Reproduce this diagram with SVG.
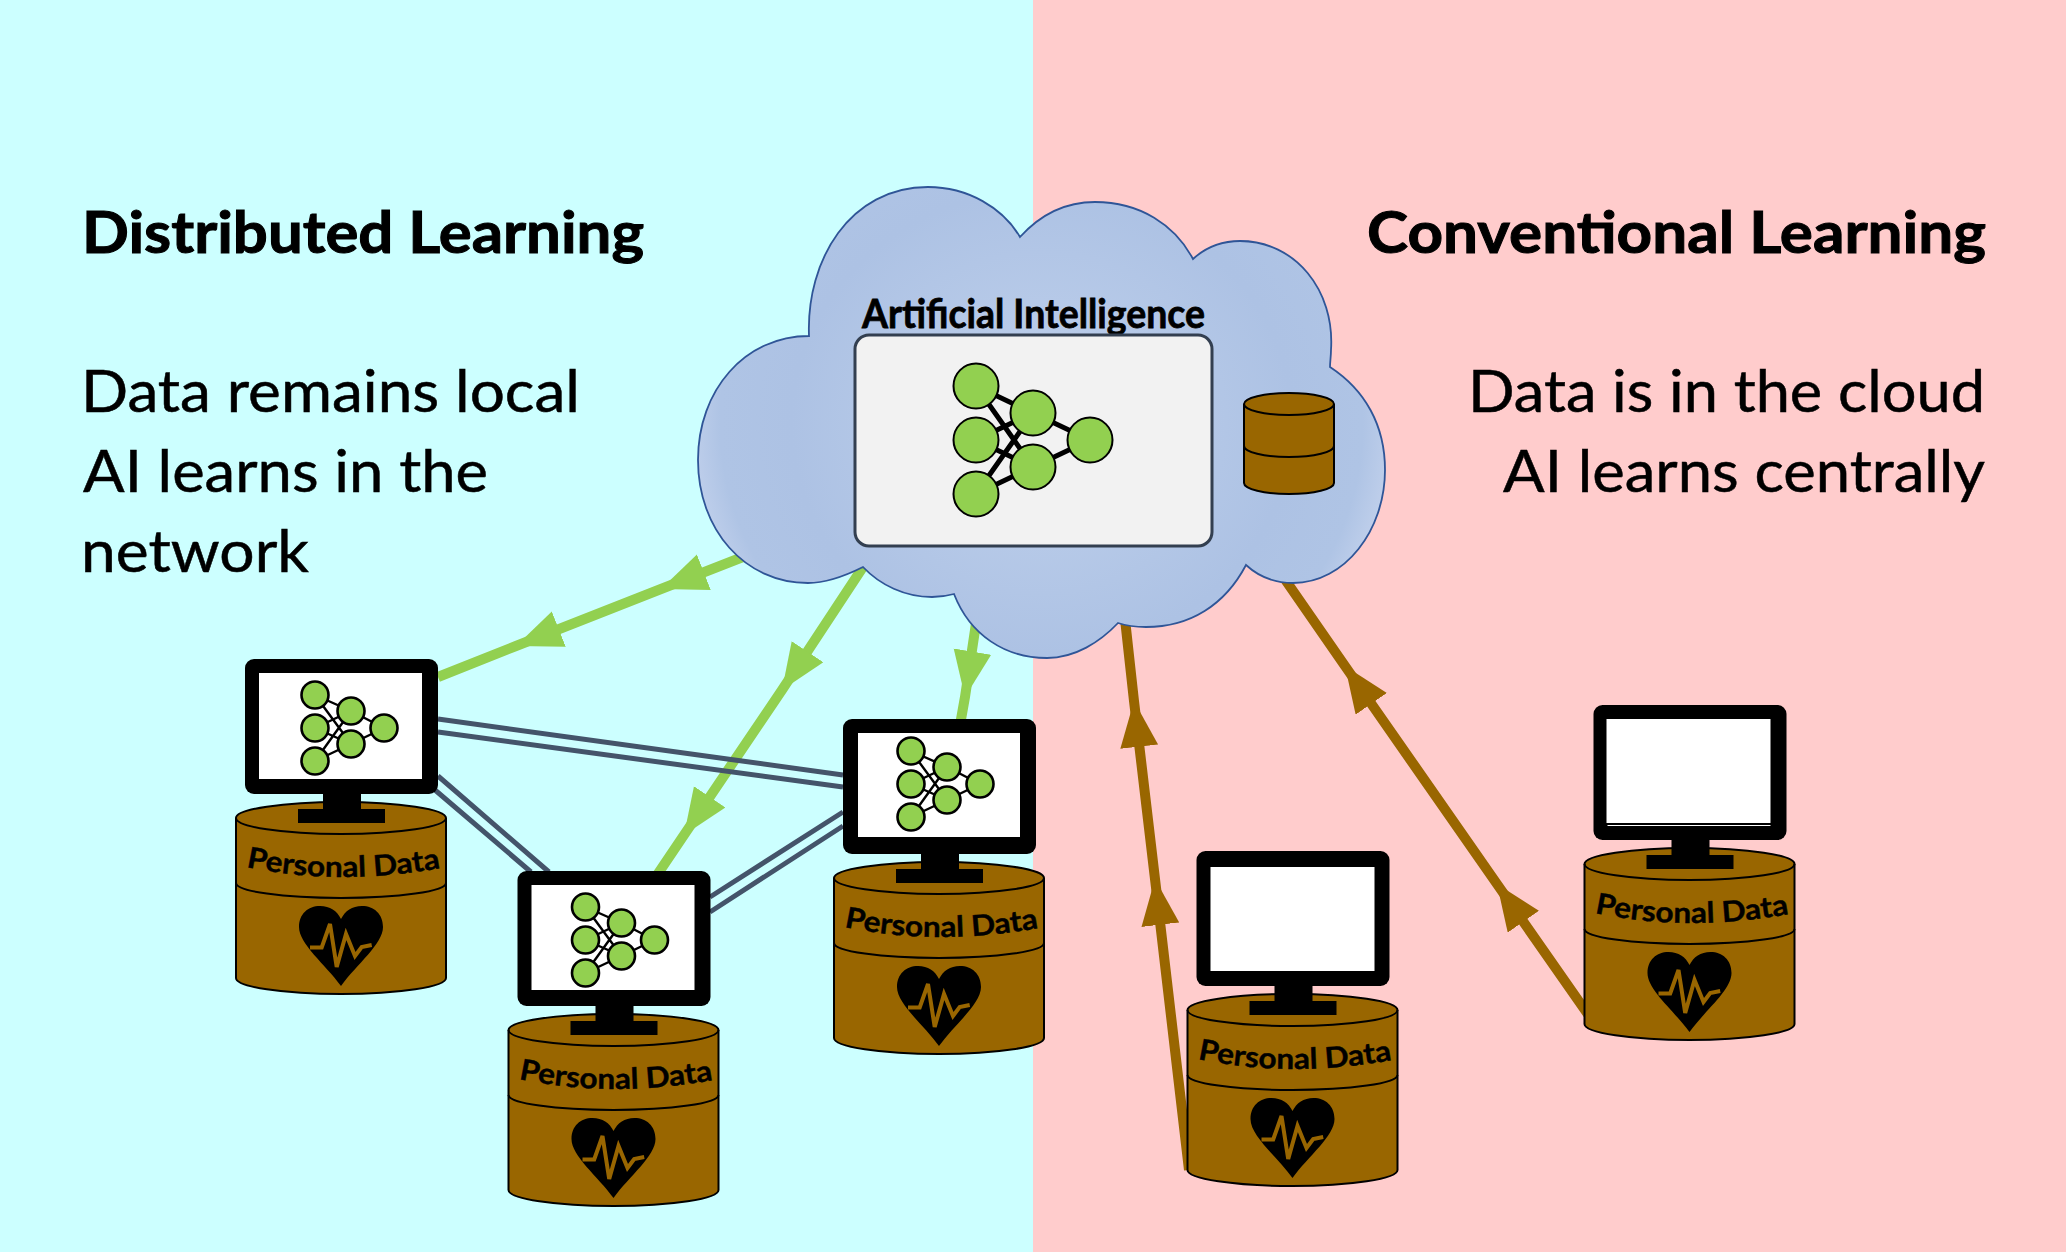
<svg xmlns="http://www.w3.org/2000/svg" width="2066" height="1252" viewBox="0 0 2066 1252">
<style>
text{font-family:Lato,"Liberation Sans",sans-serif;fill:#000}
.h{font-size:58px;font-weight:700;stroke:#000;stroke-width:1}
.b{font-size:58px;font-weight:400;stroke:#000;stroke-width:.5}
.pd{font-size:29px;font-weight:700;stroke:#000;stroke-width:.4}
.ai{font-size:41px;font-weight:700;stroke:#000;stroke-width:.8}
.disk{fill:#996600;stroke:#000;stroke-width:2}
.mon{fill:#000}
.scr{fill:#fff}
.pulse{fill:none;stroke:#996600;stroke-width:4}
.n{fill:#92D050;stroke:#000;stroke-width:2.6}
.e{stroke:#000;stroke-width:2.4}
.n2{fill:#92D050;stroke:#000;stroke-width:2}
.e2{stroke:#000;stroke-width:5}
.g{fill:none;stroke:#92D050;stroke-width:10;marker-mid:url(#hg)}
.br{fill:none;stroke:#996600;stroke-width:10;marker-mid:url(#hb)}
.s{fill:none;stroke:#44546A;stroke-width:5}
</style>
<defs>
<marker id="hg" markerUnits="userSpaceOnUse" markerWidth="48" markerHeight="40" refX="46" refY="19" orient="auto"><path d="M0 0L46 19L0 38Z" fill="#92D050"/></marker>
<marker id="hb" markerUnits="userSpaceOnUse" markerWidth="48" markerHeight="40" refX="46" refY="19" orient="auto"><path d="M0 0L46 19L0 38Z" fill="#996600"/></marker>
<radialGradient id="cg" cx=".5" cy=".5" r=".52" gradientTransform="translate(.5 .5) scale(1 1.35) translate(-.5 -.5)"><stop offset="0" stop-color="#C0D1EC"/><stop offset=".7" stop-color="#ADC2E4"/><stop offset=".9" stop-color="#AFC4E5"/><stop offset="1" stop-color="#C2D1EC"/></radialGradient>
<path id="arc" d="M246 868Q340 888 446 868"/>
<g id="dbs">
<path class="disk" d="M236 819A105 16 0 0 1 446 819V979A105 16 0 0 1 236 979Z"/>
<path class="disk" style="fill:none" d="M236 819A105 16 0 0 0 446 819M236 884A105 15 0 0 0 446 884"/>
<path fill="#000" d="M341 987C325 965 299 945 299 928C299 915 308 907 320 907C330 907 337 912 341 920C345 912 352 907 362 907C374 907 383 915 383 928C383 945 357 965 341 987Z"/>
<path class="pulse" d="M310 948.5H321.7L330 925L336.7 968L346 935L355 957L361.7 948L371.7 946"/>
</g>
<g id="mn">
<rect class="mon" x="245" y="660" width="193" height="135" rx="9"/>
<rect class="mon" x="323" y="795" width="38" height="16"/>
<rect class="mon" x="298" y="810" width="87" height="14"/>
</g>
<g id="nn">
<path class="e" d="M315 696L351 712M315 696L351 745M315 729L351 712M315 729L351 745M315 762L351 712M315 762L351 745M351 712L384 729M351 745L384 729"/>
<circle class="n" cx="315" cy="696" r="13.5"/><circle class="n" cx="315" cy="729" r="13.5"/><circle class="n" cx="315" cy="762" r="13.5"/><circle class="n" cx="351" cy="712" r="13.5"/><circle class="n" cx="351" cy="745" r="13.5"/><circle class="n" cx="384" cy="729" r="13.5"/>
</g>
</defs>
<rect id="bg-left" width="1033" height="1252" fill="#CCFFFF"/>
<rect id="bg-right" x="1033" width="1033" height="1252" fill="#FFCCCC"/>
<g id="labels">
<text class="h" x="82" y="253" textLength="562" lengthAdjust="spacingAndGlyphs">Distributed Learning</text>
<text class="b" x="81" y="412" textLength="499" lengthAdjust="spacingAndGlyphs">Data remains local</text>
<text class="b" x="83" y="492" textLength="405" lengthAdjust="spacingAndGlyphs">AI learns in the</text>
<text class="b" x="81" y="572" textLength="228" lengthAdjust="spacingAndGlyphs">network</text>
<text class="h" x="1367" y="253" textLength="619" lengthAdjust="spacingAndGlyphs">Conventional Learning</text>
<text class="b" x="1468" y="412" textLength="517" lengthAdjust="spacingAndGlyphs">Data is in the cloud</text>
<text class="b" x="1503" y="492" textLength="482" lengthAdjust="spacingAndGlyphs">AI learns centrally</text>
</g>
<g id="connectors">
<polyline class="g" points="748,555 661,589 516,646 438,677"/>
<polyline class="g" points="863,567 782,690 684,835 655,878"/>
<polyline class="g" points="978,610 965,697 960,725"/>
<polyline class="br" points="1189,1170 1155,879 1134,701 1124,610"/>
<polyline class="br" points="1592,1020 1497,884 1345,666 1275,565"/>
<path class="s" d="M438 719L843 775M438 732L843 787M438 776L549 872M435 790L531 872M710 897L843 812M710 912L843 826"/>
</g>
<g id="cloud">
<path fill="url(#cg)" stroke="#2F5597" stroke-width="1.8" d="M809 336C806 260 850 187 928 187C968 187 1003 208 1020 237C1040 215 1065 202 1095 202C1140 202 1175 225 1193 259C1205 248 1222 241 1240 241C1295 241 1335 290 1331 350C1331 356 1330 362 1330 367C1365 390 1385 425 1385 470C1385 530 1345 583 1293 583C1274 583 1258 576 1246 565C1225 605 1190 627 1146 627C1136 627 1127 626 1118 623C1100 642 1075 658 1047 658C1005 658 970 635 954 594C947 596 940 597 932 597C905 597 880 585 863 567C847 575 828 583 808 583C745 583 698 530 698 460C698 390 745 336 809 336Z"/>
<text class="ai" x="862" y="328" textLength="343" lengthAdjust="spacingAndGlyphs">Artificial Intelligence</text>
<rect x="855" y="335" width="357" height="211" rx="14" fill="#F2F2F2" stroke="#333F50" stroke-width="3"/>
<path class="e2" d="M976 386L1033 413M976 386L1033 467M976 440L1033 413M976 440L1033 467M976 494L1033 413M976 494L1033 467M1033 413L1090 440M1033 467L1090 440"/>
<circle class="n2" cx="976" cy="386" r="22.5"/><circle class="n2" cx="976" cy="440" r="22.5"/><circle class="n2" cx="976" cy="494" r="22.5"/><circle class="n2" cx="1033" cy="413" r="22.5"/><circle class="n2" cx="1033" cy="467" r="22.5"/><circle class="n2" cx="1090" cy="440" r="22.5"/>
<g id="cloud-db"><path class="disk" d="M1244 404A45 11 0 0 1 1334 404V483A45 11 0 0 1 1244 483Z"/><path class="disk" style="fill:none" d="M1244 404A45 11 0 0 0 1334 404M1244 446A45 11 0 0 0 1334 446"/></g>
</g>
<g id="node-1" transform="translate(0 -1)">
<use href="#dbs"/><use href="#mn"/><rect class="scr" x="259" y="674" width="163" height="106"/><use href="#nn"/>
<text class="pd"><textPath href="#arc" textLength="196" lengthAdjust="spacingAndGlyphs">Personal Data</textPath></text>
</g>
<g id="node-2" transform="translate(272.5 211)">
<use href="#dbs"/><use href="#mn"/><rect class="scr" x="259" y="674" width="163" height="105"/><use href="#nn" x="-2"/>
<text class="pd"><textPath href="#arc" textLength="196" lengthAdjust="spacingAndGlyphs">Personal Data</textPath></text>
</g>
<g id="node-3" transform="translate(598 59)">
<use href="#dbs"/><use href="#mn"/><rect class="scr" x="260" y="674" width="162" height="104"/><use href="#nn" x="-2" y="-4"/>
<text class="pd"><textPath href="#arc" textLength="196" lengthAdjust="spacingAndGlyphs">Personal Data</textPath></text>
</g>
<g id="node-4" transform="translate(951.5 191)">
<use href="#dbs"/><use href="#mn"/><rect class="scr" x="259" y="676" width="164" height="104"/>
<text class="pd"><textPath href="#arc" textLength="196" lengthAdjust="spacingAndGlyphs">Personal Data</textPath></text>
</g>
<g id="node-5" transform="translate(1348.5 45)">
<use href="#dbs"/><use href="#mn"/><rect class="scr" x="258" y="674" width="164" height="104"/><rect class="scr" x="259" y="780" width="163" height="1"/>
<text class="pd"><textPath href="#arc" textLength="196" lengthAdjust="spacingAndGlyphs">Personal Data</textPath></text>
</g>
</svg>
